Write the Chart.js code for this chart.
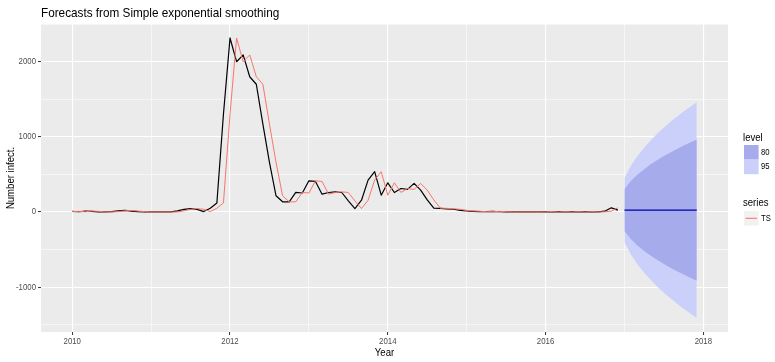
<!DOCTYPE html>
<html>
<head>
<meta charset="utf-8">
<title>Forecasts from Simple exponential smoothing</title>
<script src="https://cdn.jsdelivr.net/npm/chart.js@4/dist/chart.umd.min.js"></script>
<style>
  html, body { margin: 0; padding: 0; background: #ffffff; }
  #wrap { width: 775px; height: 362px; }
</style>
</head>
<body>
<div id="wrap"><canvas id="chart" width="775" height="362"></canvas></div>
<script>
// Monthly series, January 2010 onwards
const START_YEAR = 2010;

// Number infected per month
const observed = [
  8, 3, 12, 8, 0, 0, 5, 15, 20, 12, 5, 0,                     // 2010
  0, 0, 0, 0, 15, 35, 45, 35, 5, 50, 120, 1300,                // 2011
  2316, 2000, 2090, 1800, 1700, 1170, 660, 215, 135, 135, 260, 252, // 2012
  415, 406, 237, 259, 268, 259, 147, 45, 156, 424, 536, 223,   // 2013
  388, 259, 312, 300, 380, 290, 160, 50, 48, 42, 36, 22,       // 2014
  13, 9, 4, 4, 8, 3, 0, 0, 0, 0, 0, 2,                         // 2015
  5, 0, 4, 0, 4, 0, 4, 0, 2, 10, 55, 25                        // 2016
];

// One-step fitted values of the smoothing model (series "TS")
const fitted = [
  5, 8, 3, 12, 8, 0, 0, 5, 15, 20, 12, 5,
  0, 0, 0, 0, 0, 15, 35, 45, 35, 5, 50, 120,
  1300, 2316, 2000, 2090, 1800, 1700, 1170, 660, 215, 135, 135, 260,
  252, 415, 406, 237, 259, 268, 259, 147, 45, 156, 424, 536,
  223, 388, 259, 312, 300, 380, 290, 160, 50, 48, 42, 36,
  22, 13, 9, 4, 4, 8, 3, 0, 0, 0, 0, 0,
  2, 5, 0, 4, 0, 4, 0, 4, 0, 2, 10, 55
];

// Twelve-month forecast, 2017
const FORECAST_START = 2017;
const pointForecast = [25, 25, 25, 25, 25, 25, 25, 25, 25, 25, 25, 25];
const lower80 = [-254, -364, -449, -520, -584, -641, -694, -743, -789, -833, -875, -915];
const upper80 = [304, 414, 499, 570, 634, 691, 744, 793, 839, 883, 925, 965];
const lower95 = [-402, -570, -699, -809, -906, -994, -1074, -1150, -1221, -1287, -1351, -1412];
const upper95 = [452, 620, 749, 859, 956, 1044, 1124, 1200, 1271, 1337, 1401, 1462];

// Axis breaks
const yearTicks = [2010, 2011, 2012, 2013, 2014, 2015, 2016, 2017, 2018];
const yearLabels = ['2010', '2012', '2014', '2016', '2018'];
const valueTicks = [-1500, -1000, -500, 0, 500, 1000, 1500, 2000, 2500];
const valueLabels = ['-1000', '0', '1000', '2000'];

const levelNames = ['80', '95'];
const seriesNames = ['TS'];

// ---- styling ----
const PANEL_BG = '#EBEBEB';
const COL_OBS = '#000000';
const COL_FIT = '#F8766D';
const COL_MEAN = '#0000AA';
const COL_80 = '#A6ABEC';
const COL_95 = '#CBD0FA';
const SQUEEZE = 0.87;
const FONT = '"Liberation Sans", Arial, sans-serif';

const toPoints = (vals, t0) => vals.map((v, i) => ({ x: t0 + i / 12, y: v }));

const isMajorYear = v => yearLabels.includes(String(v));
const isMajorValue = v => valueLabels.includes(String(v));

function txt(ctx, s, x, y, size, align, color, rotate) {
  ctx.save();
  ctx.font = size + 'px ' + FONT;
  ctx.fillStyle = color;
  ctx.textAlign = align;
  ctx.textBaseline = 'middle';
  ctx.translate(x, y);
  if (rotate) ctx.rotate(-Math.PI / 2);
  ctx.scale(SQUEEZE, 1);
  ctx.fillText(s, 0, 0);
  ctx.restore();
}

const panelBackground = {
  id: 'panelBackground',
  beforeDraw(chart) {
    const { ctx, chartArea: a } = chart;
    ctx.save();
    ctx.fillStyle = PANEL_BG;
    ctx.fillRect(a.left, a.top, a.right - a.left, a.bottom - a.top);
    ctx.restore();
  }
};

const annotations = {
  id: 'annotations',
  afterDraw(chart) {
    const { ctx, chartArea: a, scales } = chart;
    // title
    txt(ctx, 'Forecasts from Simple exponential smoothing', a.left, 13, 13.5, 'left', '#000000');
    // tick labels
    yearLabels.forEach(l => {
      txt(ctx, l, scales.x.getPixelForValue(Number(l)), a.bottom + 9.5, 9, 'center', '#4D4D4D');
    });
    valueLabels.forEach(l => {
      txt(ctx, l, a.left - 5, scales.y.getPixelForValue(Number(l)), 9, 'right', '#4D4D4D');
    });
    // axis titles
    txt(ctx, 'Year', (a.left + a.right) / 2, 353, 11, 'center', '#000000');
    txt(ctx, 'Number infect.', 10.5, (a.top + a.bottom) / 2, 11, 'center', '#000000', true);

    // legend: level
    const lx = 744, key = 14.6;
    txt(ctx, 'level', lx - 1, 138, 11, 'left', '#000000');
    [COL_80, COL_95].forEach((c, i) => {
      const ky = 145 + i * key;
      ctx.fillStyle = c;
      ctx.fillRect(lx, ky, key, key);
      txt(ctx, levelNames[i], lx + key + 2.5, ky + key / 2, 8.8, 'left', '#000000');
    });
    // legend: series
    txt(ctx, 'series', lx - 1, 203, 11, 'left', '#000000');
    const sy = 211;
    ctx.fillStyle = '#F2F2F2';
    ctx.fillRect(lx, sy, key, key);
    ctx.strokeStyle = COL_FIT;
    ctx.lineWidth = 1.1;
    ctx.beginPath();
    ctx.moveTo(lx + 1.5, sy + key / 2);
    ctx.lineTo(lx + key - 1.5, sy + key / 2);
    ctx.stroke();
    txt(ctx, seriesNames[0], lx + key + 2.5, sy + key / 2, 8.8, 'left', '#000000');
  }
};

const band = (vals, color, fillTarget, order) => ({
  data: toPoints(vals, FORECAST_START),
  borderWidth: 0,
  borderColor: 'rgba(0,0,0,0)',
  backgroundColor: color,
  pointRadius: 0,
  fill: fillTarget,
  order
});

const chart = new Chart(document.getElementById('chart'), {
  type: 'line',
  data: {
    datasets: [
      { label: 'TS', data: toPoints(fitted, START_YEAR), borderColor: COL_FIT, borderWidth: 1, pointRadius: 0, fill: false, order: 0 },
      { label: 'data', data: toPoints(observed, START_YEAR), borderColor: COL_OBS, borderWidth: 1.2, pointRadius: 0, fill: false, order: 1 },
      { label: 'forecast', data: toPoints(pointForecast, FORECAST_START), borderColor: COL_MEAN, borderWidth: 1.1, pointRadius: 0, fill: false, order: 2 },
      band(lower80, 'rgba(0,0,0,0)', false, 3),
      band(upper80, COL_80, 3, 4),
      band(lower95, 'rgba(0,0,0,0)', false, 5),
      band(upper95, COL_95, 5, 6)
    ]
  },
  options: {
    responsive: false,
    animation: false,
    devicePixelRatio: 1,
    events: [],
    layout: { padding: { top: 24, right: 47, bottom: 0, left: 0 } },
    plugins: { legend: { display: false }, title: { display: false }, tooltip: { enabled: false } },
    elements: { line: { tension: 0, borderCapStyle: 'butt', borderJoinStyle: 'round' } },
    scales: {
      x: {
        type: 'linear',
        min: 2009.604,
        max: 2018.3125,
        afterBuildTicks: s => { s.ticks = yearTicks.map(v => ({ value: v })); },
        afterFit: s => { s.height = 30; },
        ticks: { display: false },
        border: { display: false },
        grid: {
          color: '#FFFFFF',
          lineWidth: c => (c.tick && isMajorYear(c.tick.value)) ? 1.1 : 0.55,
          drawTicks: true,
          tickLength: 3,
          tickWidth: 1,
          tickColor: c => (c.tick && isMajorYear(c.tick.value)) ? '#333333' : 'rgba(0,0,0,0)'
        }
      },
      y: {
        type: 'linear',
        min: -1598,
        max: 2502,
        afterBuildTicks: s => { s.ticks = valueTicks.map(v => ({ value: v })); },
        afterFit: s => { s.width = 41; },
        ticks: { display: false },
        border: { display: false },
        grid: {
          color: '#FFFFFF',
          lineWidth: c => (c.tick && isMajorValue(c.tick.value)) ? 1.1 : 0.55,
          drawTicks: true,
          tickLength: 3,
          tickWidth: 1,
          tickColor: c => (c.tick && isMajorValue(c.tick.value)) ? '#333333' : 'rgba(0,0,0,0)'
        }
      }
    }
  },
  plugins: [panelBackground, annotations]
});
</script>
</body>
</html>
